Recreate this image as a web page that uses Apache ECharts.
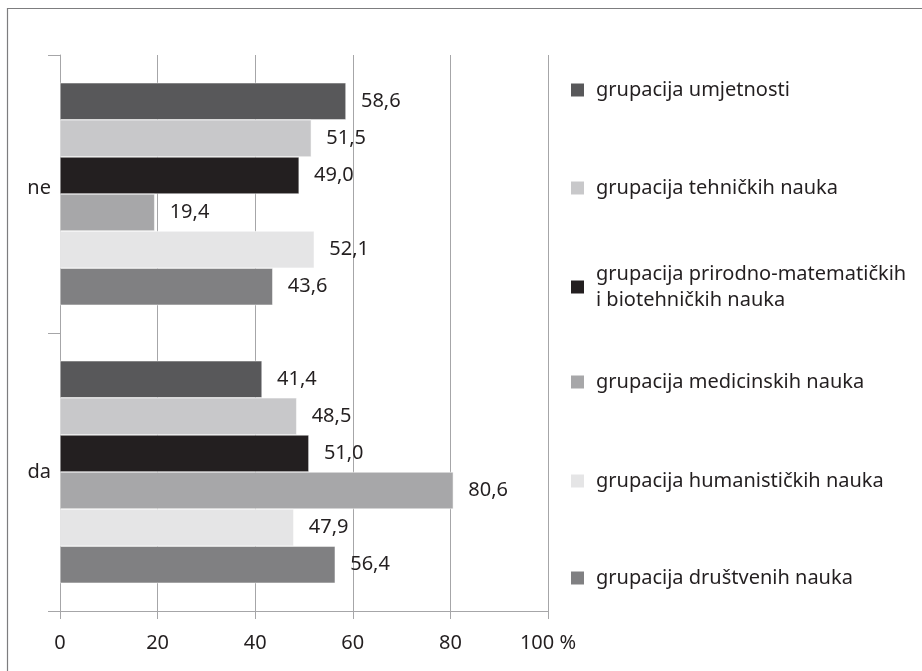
<!DOCTYPE html>
<html>
<head>
<meta charset="utf-8">
<script src="https://cdn.jsdelivr.net/npm/echarts@6/dist/echarts.min.js"></script>
<style>
  html, body { margin: 0; padding: 0; background: #fff; }
  #chart { width: 922px; height: 671px; }
</style>
</head>
<body>
<div id="chart"></div>
<script>
// categories, top to bottom
var categories = ['ne', 'da'];
var seriesNames = [
  'grupacija umjetnosti',
  'grupacija tehničkih nauka',
  'grupacija prirodno-matematičkih\ni biotehničkih nauka',
  'grupacija medicinskih nauka',
  'grupacija humanističkih nauka',
  'grupacija društvenih nauka'
];
// values per series: [ne, da]
var umjetnosti = [58.6, 41.4];
var tehnicke = [51.5, 48.5];
var prirodne = [49.0, 51.0];
var medicinske = [19.4, 80.6];
var humanisticke = [52.1, 47.9];
var drustvene = [43.6, 56.4];
var xTicks = [0, 20, 40, 60, 80, 100];

var values = [umjetnosti, tehnicke, prirodne, medicinske, humanisticke, drustvene];
var colors = ['#58585a', '#c8c8ca', '#231f20', '#a7a7a9', '#e5e5e6', '#808082'];
var legendCenters = [85, 183, 282, 377, 476, 573];
var font = 'Noto Sans';
var fontSize = 20;
var textColor = '#231f20';
var gridColor = '#a6a6a8';

var chart = echarts.init(document.getElementById('chart'));

var series = seriesNames.map(function (name, i) {
  return {
    name: name,
    type: 'bar',
    data: values[i],
    barGap: '0%',
    barCategoryGap: '20%',
    itemStyle: { color: colors[i], borderColor: '#ffffff', borderWidth: 0.5 },
    label: {
      show: true,
      position: 'right',
      distance: 15,
      color: textColor,
      fontFamily: font,
      fontSize: fontSize,
      formatter: function (p) { return p.value.toFixed(1).replace('.', ','); }
    }
  };
});

var legends = seriesNames.map(function (name, i) {
  var twoLines = name.indexOf('\n') >= 0;
  return {
    data: [name],
    orient: 'vertical',
    left: 564,
    top: twoLines ? legendCenters[i] - 39 : legendCenters[i] - 12,
    itemWidth: 15,
    itemHeight: 15,
    icon: 'rect',
    selectedMode: false,
    textStyle: {
      color: textColor,
      fontFamily: font,
      fontSize: fontSize,
      lineHeight: twoLines ? 26 : 24,
      padding: twoLines ? [26, 0, 0, 6] : [0, 0, 0, 6]
    }
  };
});

chart.setOption({
  animation: false,
  backgroundColor: '#fff',
  grid: { left: 60, right: 374, top: 55, bottom: 60 },
  legend: legends,
  xAxis: {
    type: 'value',
    min: xTicks[0],
    max: xTicks[xTicks.length - 1],
    interval: xTicks[1] - xTicks[0],
    axisLine: { show: true, lineStyle: { color: gridColor, width: 1 } },
    axisTick: { show: true, length: 8, lineStyle: { color: gridColor } },
    splitLine: { show: true, lineStyle: { color: gridColor, width: 1 } },
    axisLabel: {
      color: textColor,
      fontFamily: font,
      fontSize: fontSize,
      margin: 22,
      formatter: function (v) { return v === 100 ? '100 %' : String(v); }
    }
  },
  yAxis: {
    type: 'category',
    inverse: true,
    data: categories,
    axisLine: { show: true, lineStyle: { color: gridColor, width: 1 } },
    axisTick: { show: true, length: 12, lineStyle: { color: gridColor } },
    axisLabel: {
      color: textColor,
      fontFamily: font,
      fontSize: fontSize,
      margin: 9,
      formatter: function (v) { return v === 'ne' ? '{up|' + v + '}' : v; },
      rich: { up: { fontFamily: font, fontSize: fontSize, color: textColor, padding: [0, 0, 12, 0] } }
    }
  },
  graphic: [{
    type: 'rect',
    shape: { x: 7.5, y: 8.5, width: 930, height: 680 },
    style: { fill: null, stroke: '#7d7d7f', lineWidth: 1.2 },
    silent: true
  }, {
    type: 'line',
    shape: { x1: 48, y1: 611.5, x2: 60, y2: 611.5 },
    style: { stroke: gridColor, lineWidth: 1 },
    silent: true
  }],
  series: series
});
</script>
</body>
</html>
